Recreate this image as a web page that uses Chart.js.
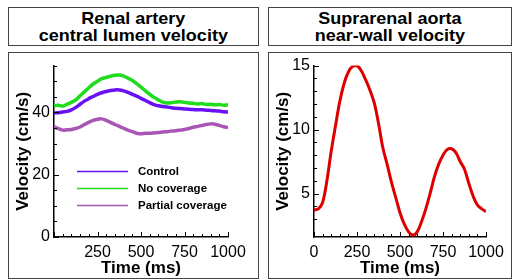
<!DOCTYPE html>
<html>
<head>
<meta charset="utf-8">
<script src="https://cdn.jsdelivr.net/npm/chart.js@4/dist/chart.umd.min.js"></script>
<style>
  body { margin: 0; width: 513px; height: 280px; background: #fff; position: relative; overflow: hidden;
         font-family: "Liberation Sans", Arial, sans-serif; }
  .box { position: absolute; border: 1.5px solid #444; box-sizing: border-box; }
  .title { display: flex; align-items: center; justify-content: center; text-align: center;
           font-weight: bold; font-size: 17px; line-height: 17px; color: #000; }
  .title span { display: inline-block; transform: scaleX(1.06); }
  canvas { position: absolute; }
</style>
</head>
<body>
<div class="box title" style="left:8px;top:7px;width:251px;height:39px"><span>Renal artery<br>central lumen velocity</span></div>
<div class="box" style="left:8px;top:52px;width:251px;height:227px"></div>
<div class="box title" style="left:268px;top:7px;width:244px;height:39px"><span>Suprarenal aorta<br>near-wall velocity</span></div>
<div class="box" style="left:268px;top:52px;width:244px;height:227px"></div>

<canvas id="renal" width="262" height="228" style="left:0;top:52px"></canvas>
<canvas id="aorta" width="251" height="228" style="left:262px;top:52px"></canvas>

<script>
// ── Data ──────────────────────────────────────────────────────
const times = [0, 25, 50, 75, 100, 125, 150, 175, 200, 225, 250, 275, 300, 325, 350, 375, 400,
  425, 450, 475, 500, 525, 550, 575, 600, 625, 650, 675, 700, 725, 750, 775, 800, 825, 850,
  875, 900, 925, 950, 975, 1000];

const controlVel = [39.8, 39.9, 40.1, 40.3, 40.8, 41.6, 42.6, 43.6, 44.4, 45.1, 45.8, 46.3, 46.7,
  47.0, 47.2, 47.2, 46.9, 46.4, 45.8, 45.2, 44.5, 43.8, 43.1, 42.5, 42.1, 41.9, 41.7, 41.5, 41.3,
  41.2, 41.1, 41.0, 40.9, 40.8, 40.8, 40.7, 40.6, 40.5, 40.4, 40.2, 40.1];
const noCoverageVel = [42.1, 42.3, 42.0, 42.6, 43.2, 44.0, 45.3, 46.6, 47.9, 49.1, 50.0, 50.8, 51.2,
  51.6, 51.9, 52.0, 51.6, 51.0, 50.2, 49.2, 48.1, 46.9, 45.8, 44.8, 44.0, 43.3, 43.0, 43.1, 43.3,
  43.4, 43.2, 43.0, 42.9, 42.7, 42.8, 42.5, 42.6, 42.4, 42.5, 42.3, 42.4];
const partialVel = [35.3, 34.8, 34.3, 34.4, 34.5, 34.8, 35.3, 36.1, 36.8, 37.4, 37.8, 37.9, 37.4,
  36.8, 36.1, 35.5, 34.9, 34.3, 33.8, 33.3, 33.1, 33.3, 33.3, 33.4, 33.5, 33.7, 33.8, 34.0, 34.1,
  34.3, 34.5, 34.8, 35.2, 35.5, 35.8, 36.1, 36.3, 36.2, 35.8, 35.4, 35.1];
const nearWallVel = [3.7, 3.8, 4.3, 6.0, 8.3, 10.3, 12.2, 13.6, 14.5, 14.95, 15.0, 14.6, 13.9,
  13.1, 12.1, 10.5, 8.6, 7.3, 5.9, 4.7, 3.5, 2.6, 2.0, 1.75, 2.0, 2.8, 3.8, 5.0, 6.3, 7.3, 8.0,
  8.45, 8.5, 8.2, 7.5, 6.9, 5.8, 4.8, 4.1, 3.8, 3.6];

const seriesNames = ['Control', 'No coverage', 'Partial coverage'];
const seriesColors = ['#6a10f5', '#1fdc1f', '#a855b5'];

const FONT = '"Liberation Sans", Arial, sans-serif';
const isMultiple = (v, m) => Math.abs(v / m - Math.round(v / m)) < 1e-6;

// ── Plugins ───────────────────────────────────────────────────
// tick marks pointing into the plot, longer on labelled ticks
const inwardTicks = {
  id: 'inwardTicks',
  afterDraw(chart) {
    const ctx = chart.ctx, a = chart.chartArea;
    const x = chart.scales.x, y = chart.scales.y;
    ctx.save();
    ctx.fillStyle = '#000';
    x.ticks.forEach(t => {
      const px = Math.round(x.getPixelForValue(t.value));
      const len = isMultiple(t.value, 250) ? 5 : 3;
      ctx.fillRect(px, a.bottom - len, 1, len);
    });
    y.ticks.forEach(t => {
      if (!isMultiple(t.value, 1)) return;
      const py = Math.round(y.getPixelForValue(t.value));
      const len = t.label !== '' ? 5 : 3;
      ctx.fillRect(a.left, py, len, 1);
    });
    ctx.restore();
  }
};

// legend drawn inside the plot, lower left
const innerLegend = {
  id: 'innerLegend',
  afterDraw(chart) {
    const { ctx, chartArea: a } = chart;
    ctx.save();
    ctx.font = 'bold 11.5px ' + FONT;
    ctx.textBaseline = 'middle';
    ctx.fillStyle = '#000';
    chart.data.datasets.forEach((ds, i) => {
      const yy = a.top + 106 + i * 17;
      ctx.strokeStyle = ds.borderColor;
      ctx.lineWidth = 1.5;
      ctx.beginPath();
      ctx.moveTo(a.left + 23, yy); ctx.lineTo(a.left + 74, yy);
      ctx.stroke();
      ctx.fillText(ds.label, a.left + 84, yy);
    });
    ctx.restore();
  }
};

// ── Shared axis options ───────────────────────────────────────
function xAxis(showZero) {
  return {
    type: 'linear', min: 0, max: 1000,
    grid: { display: false, drawTicks: false },
    border: { display: true, color: '#000', width: 1.5 },
    ticks: {
      stepSize: 50, autoSkip: false, maxRotation: 0, padding: 6,
      color: '#000', font: { family: FONT, size: 16 },
      callback: v => (isMultiple(v, 250) && (showZero || v > 0)) ? v : '',
    },
    title: { display: true, text: 'Time (ms)', color: '#000', font: { family: FONT, size: 17, weight: 'bold' }, padding: { top: 0, bottom: 1 } },
    afterFit: s => { s.height = 43; },
  };
}
function yAxis(min, max, step, labelEvery) {
  return {
    min, max,
    grid: { display: false, drawTicks: false },
    border: { display: true, color: '#000', width: 1.5 },
    ticks: {
      stepSize: step, autoSkip: false, padding: 4,
      color: '#000', font: { family: FONT, size: 16 },
      callback: v => isMultiple(v, labelEvery) ? Math.round(v) : '',
    },
    title: { display: true, text: 'Velocity (cm/s)', color: '#000', font: { family: FONT, size: 17, weight: 'bold' }, padding: { top: 5, bottom: 0 } },
    afterFit: s => { s.width = 46; },
  };
}
function lineSet(label, values, color, width) {
  return {
    label,
    data: times.map((t, i) => ({ x: t, y: values[i] })),
    borderColor: color, backgroundColor: color,
    borderWidth: width, pointRadius: 0, tension: 0.35, fill: false,
  };
}

// ── Renal artery chart ────────────────────────────────────────
new Chart(document.getElementById('renal'), {
  type: 'line',
  data: {
    datasets: [
      lineSet(seriesNames[0], controlVel, seriesColors[0], 3.5),
      lineSet(seriesNames[1], noCoverageVel, seriesColors[1], 3.5),
      lineSet(seriesNames[2], partialVel, seriesColors[2], 3.5),
    ],
  },
  options: {
    responsive: false, animation: false,
    layout: { padding: { left: 8, top: 11, right: 34, bottom: 0 } },
    plugins: { legend: { display: false }, tooltip: { enabled: false } },
    scales: { x: xAxis(false), y: yAxis(0, 55, 5, 20) },
  },
  plugins: [inwardTicks, innerLegend],
});

// ── Suprarenal aorta chart ────────────────────────────────────
new Chart(document.getElementById('aorta'), {
  type: 'line',
  data: {
    datasets: [lineSet('Near-wall', nearWallVel, '#dd0000', 3)],
  },
  options: {
    responsive: false, animation: false,
    layout: { padding: { left: 6, top: 11, right: 27, bottom: 0 } },
    plugins: { legend: { display: false }, tooltip: { enabled: false } },
    scales: { x: xAxis(true), y: yAxis(1.6, 15, 1, 5) },
  },
  plugins: [inwardTicks],
});
</script>
</body>
</html>
